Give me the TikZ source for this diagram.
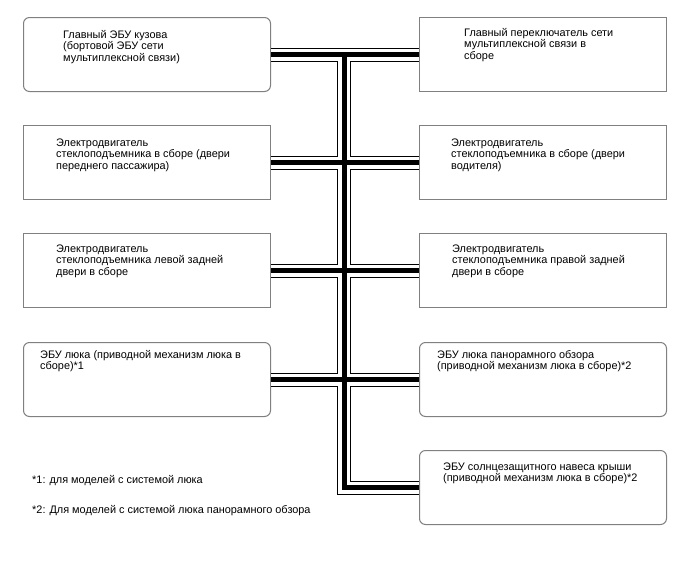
\documentclass[tikz,border=0pt]{standalone}
\usepackage{fontspec}
\setmainfont{Liberation Sans}
\begin{document}
\begin{tikzpicture}[x=1pt,y=-1pt,
  boxsq/.style={draw=black!50, line width=1pt, fill=white, inner sep=0pt, anchor=north west, minimum width=247pt, minimum height=74pt},
  boxrd/.style={boxsq, rounded corners=6pt},
  txt/.style={inner sep=0pt, anchor=base west, align=left, font=\fontsize{10.9pt}{11.5pt}\selectfont},
  line join=miter]
\useasboundingbox (0,0) rectangle (688,560);
\fill[white] (0,0) rectangle (688,560);
% boxes
\node[boxrd] (L1) at (23,17) {};
\node[boxsq] (R1) at (419,17) {};
\node[boxsq] (L2) at (23,125) {};
\node[boxsq] (R2) at (419,125) {};
\node[boxsq] (L3) at (23,233) {};
\node[boxsq] (R3) at (419,233) {};
\node[boxrd] (L4) at (23,342) {};
\node[boxrd] (R4) at (419,342) {};
\node[boxrd] (R5) at (419,450) {};
% bus
\coordinate (bt) at (344,0 |- L1.east);
\coordinate (bb) at (344,0 |- R5.west);
\foreach \w/\c in {14/black,12/white,5/black}{
  \draw[line width=\w pt, draw=\c]
    (L1.east) -- (R1.west)
    (L2.east) -- (R2.west)
    (L3.east) -- (R3.west)
    (L4.east) -- (R4.west)
    (bt) -- (bb) -- (R5.west);
}
% texts (anchor = baseline of last line)
\node[txt] (tL1) at (63,61) {Главный ЭБУ кузова\\(бортовой ЭБУ сети\\мультиплексной связи)};
\node[txt] (tR1) at (464,59) {Главный переключатель сети\\мультиплексной связи в\\сборе};
\node[txt] (tL2) at (56,169) {Электродвигатель\\стеклоподъемника в сборе (двери\\переднего пассажира)};
\node[txt] (tR2) at (451,169) {Электродвигатель\\стеклоподъемника в сборе (двери\\водителя)};
\node[txt] (tL3) at (56,275) {Электродвигатель\\стеклоподъемника левой задней\\двери в сборе};
\node[txt] (tR3) at (452,275) {Электродвигатель\\стеклоподъемника правой задней\\двери в сборе};
\node[txt] (tL4) at (40,369.5) {ЭБУ люка (приводной механизм люка в\\сборе)*1};
\node[txt] (tR4) at (437,369.5) {ЭБУ люка панорамного обзора\\(приводной механизм люка в сборе)*2};
\node[txt] (tR5) at (443,481.5) {ЭБУ солнцезащитного навеса крыши\\(приводной механизм люка в сборе)*2};
\node[txt] (f1) at (32,483) {*1: для моделей с системой люка};
\node[txt] (f2) at (32,513) {*2: Для моделей с системой люка панорамного обзора};
\end{tikzpicture}
\end{document}
